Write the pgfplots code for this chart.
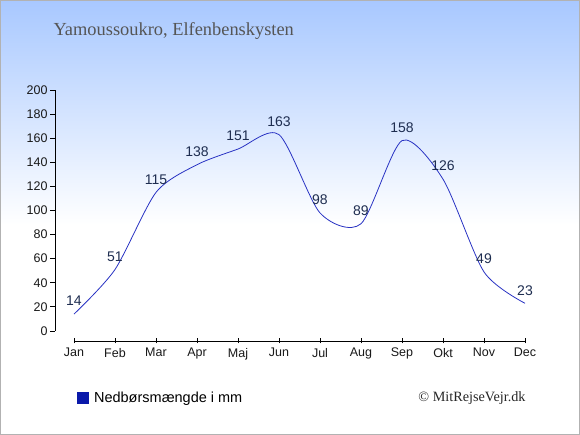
\documentclass[border=0pt]{standalone}
\usepackage{pgfplots}
\pgfplotsset{compat=1.18}
\usepackage{fontspec}
\setmainfont{Liberation Sans}
\newfontfamily\seriffont{Liberation Serif}
\definecolor{topblue}{RGB}{168,200,255}
\definecolor{lineblue}{RGB}{40,50,195}
\definecolor{legblue}{RGB}{10,25,170}
\definecolor{labcol}{RGB}{30,45,80}
\definecolor{titlecol}{RGB}{85,85,85}
\begin{document}
\begin{tikzpicture}[x=1pt,y=1pt]
\useasboundingbox (0,0) rectangle (580,435);
\fill[white] (0,0) rectangle (580,435);
\shade[top color=topblue, bottom color=white] (0,210) rectangle (580,435);
\draw[black!30, line width=1pt] (0.5,0.5) rectangle (579.5,434.5);
\node[anchor=west, text=titlecol, font=\seriffont\fontsize{18.4}{21}\selectfont] at (50,404) {Yamoussoukro, Elfenbenskysten};
\node[anchor=center, text=black!85, font=\seriffont\fontsize{14.2}{16}\selectfont] at (472,37) {© MitRejseVejr.dk};
\begin{axis}[
  at={(55pt,94pt)}, anchor=south west,
  scale only axis, width=470pt, height=251pt,
  xmin=-0.463, xmax=11, ymin=-8.3, ymax=200,
  clip=false,
  axis line style={draw=none},
  xtick={0,...,11},
  xticklabels={Jan,Feb,Mar,Apr,Maj,Jun,Jul,Aug,Sep,Okt,Nov,Dec},
  ytick={0,20,...,200},
  tick style={black, line width=0.8pt},
  xtick pos=bottom, ytick pos=left,
  xtick align=center,
  ytick align=outside,
  major tick length=5pt,
  tick label style={font=\fontsize{12.5}{14}\selectfont, text=black!90},
  /pgf/number format/assume math mode=true,
  yticklabel style={xshift=1pt},
  xticklabel style={yshift=-1pt},
  legend style={at={(rel axis cs:0.047,-0.227)}, anchor=west, draw=none, fill=none,
    font=\fontsize{14.5}{16}\selectfont, inner sep=0pt},
  legend cell align=left,
]
\draw[black, line width=0.8pt] (axis cs:-0.463,0) -- (axis cs:-0.463,200);
\draw[black, line width=0.8pt] (axis cs:0,-8.3) -- (axis cs:11,-8.3);
\addplot[lineblue, line width=0.8pt, smooth, tension=0.45, mark=none,
  nodes near coords, point meta=explicit,
  every node near coord/.style={anchor=center, yshift=13pt, text=labcol, font=\fontsize{14}{16}\selectfont},
  legend image code/.code={\fill[legblue] (0pt,-5.5pt) rectangle (11pt,5.5pt);}]
  coordinates {
  (0,14) [14] (1,51) [51] (2,115) [115] (3,138) [138] (4,151) [151] (5,163) [163]
  (6,98) [98] (7,89) [89] (8,158) [158] (9,126) [126] (10,49) [49] (11,23) [23]
  };
\addlegendentry{\hspace{3pt}Nedbørsmængde i mm}
\end{axis}
\end{tikzpicture}
\end{document}
